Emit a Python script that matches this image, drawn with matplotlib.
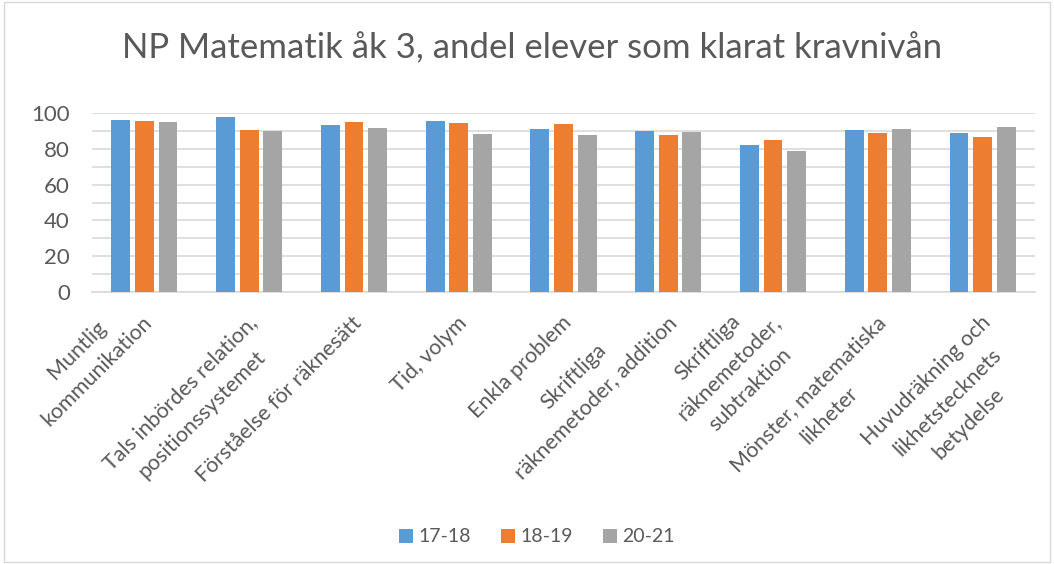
import numpy as np
import matplotlib
matplotlib.use("Agg")
import matplotlib.pyplot as plt
from matplotlib.patches import Rectangle

plt.rcParams['font.family'] = ['Lato', 'DejaVu Sans']

# data
categories = [
    "Muntlig\nkommunikation",
    "Tals inbördes relation,\npositionssystemet",
    "Förståelse för räknesätt",
    "Tid, volym",
    "Enkla problem",
    "Skriftliga\nräknemetoder, addition",
    "Skriftliga\nräknemetoder,\nsubtraktion",
    "Mönster, matematiska\nlikheter",
    "Huvudräkning och\nlikhetstecknets\nbetydelse",
]
series_names = ["17-18", "18-19", "20-21"]
vals_1718 = [96.3, 97.9, 93.5, 95.7, 91.2, 90.1, 82.2, 90.7, 89.0]
vals_1819 = [95.7, 90.7, 95.1, 94.6, 94.0, 87.9, 85.0, 89.0, 86.7]
vals_2021 = [95.1, 90.1, 91.8, 88.4, 87.9, 89.5, 78.9, 91.2, 92.3]
colors = ["#5B9BD5", "#ED7D31", "#A5A5A5"]
text_col = "#595959"

fig = plt.figure(figsize=(10.54, 5.64), dpi=100)
ax = fig.add_axes([92 / 1054, 1 - 292 / 564, (1035 - 92) / 1054, (292 - 113) / 564])

x = np.arange(len(categories))
width = 0.18
step = 0.225
for i, (vals, name) in enumerate(zip([vals_1718, vals_1819, vals_2021], series_names)):
    ax.bar(x + (i - 1) * step, vals, width, color=colors[i], label=name, zorder=3)

ax.set_xlim(-0.5, len(categories) - 0.5)
ax.set_ylim(0, 100)
ax.set_yticks(np.arange(0, 101, 20))
ax.set_yticks(np.arange(0, 101, 10), minor=True)
ax.grid(axis='y', which='both', color='#D9D9D9', linewidth=1.2, zorder=0)
ax.tick_params(axis='y', which='both', length=0, labelsize=16, labelcolor=text_col, pad=16)
ax.tick_params(axis='x', length=0)
for s in ['top', 'right', 'left']:
    ax.spines[s].set_visible(False)
ax.spines['bottom'].set_color('#D9D9D9')
ax.spines['bottom'].set_linewidth(1.2)
ax.set_xticks(x)
ax.set_xticklabels([])

# Excel-style 45 degree labels: the longest line ends just under the tick,
# the other lines are centred on it
lab_size = 15.5
line_gap = 30.0                       # px between lines
u = np.array([1, 1]) / np.sqrt(2)     # along the text (display coords, y up)
n = np.array([1, -1]) / np.sqrt(2)    # next line direction
renderer = fig.canvas.get_renderer()
for xi, lab in zip(x, categories):
    lines = lab.split("\n")
    widths = []
    for ln in lines:
        t = fig.text(0, 0, ln, fontsize=lab_size)
        widths.append(t.get_window_extent(renderer).width)
        t.remove()
    k = int(np.argmax(widths))
    end = 23 * n - 16 * u
    ck = end - widths[k] / 2 * u
    for i, ln in enumerate(lines):
        c = ck + (i - k) * line_gap * n
        ax.annotate(ln, xy=(xi, 0), xycoords='data', xytext=(c[0], c[1]),
                    textcoords='offset pixels', rotation=45, rotation_mode='anchor',
                    ha='center', va='center', fontsize=lab_size, color=text_col,
                    annotation_clip=False)

fig.suptitle("NP Matematik åk 3, andel elever som klarat kravnivån",
             x=0.505, y=1 - 48 / 564, va='center', fontsize=25, color=text_col)

fig.legend(loc='center', bbox_to_anchor=(537 / 1054, 1 - 537 / 564), ncol=3, frameon=False,
           fontsize=14, labelcolor=text_col, handlelength=0.7, handleheight=0.7,
           handletextpad=0.3, columnspacing=1.55)

fig.patches.append(Rectangle((0.004, 0.004), 0.992, 0.992, transform=fig.transFigure,
                             fill=False, edgecolor='#D9D9D9', linewidth=1))

fig.savefig("out.png", dpi=100)
